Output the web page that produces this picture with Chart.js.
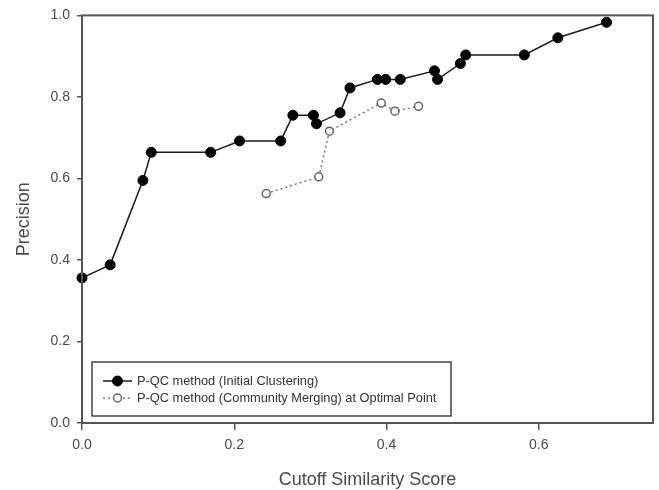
<!DOCTYPE html>
<html>
<head>
<meta charset="utf-8">
<script src="https://cdn.jsdelivr.net/npm/chart.js@4/dist/chart.umd.min.js"></script>
<style>
  html, body { margin: 0; padding: 0; background: #ffffff; }
  #c { display: block; }
</style>
</head>
<body>
<canvas id="c" width="659" height="490"></canvas>
<script>
// ---- data ----
const xTickValues = [0, 0.2, 0.4, 0.6];
const yTickValues = [0, 0.2, 0.4, 0.6, 0.8, 1.0];

const initialLabel = "P-QC method (Initial Clustering)";
const initialX = [0.000, 0.037, 0.080, 0.091, 0.169, 0.207, 0.261, 0.277, 0.304, 0.308, 0.339,
                  0.352, 0.388, 0.399, 0.418, 0.463, 0.467, 0.497, 0.504, 0.581, 0.625, 0.689];
const initialY = [0.356, 0.388, 0.595, 0.664, 0.664, 0.692, 0.692, 0.755, 0.755, 0.734, 0.761,
                  0.822, 0.843, 0.843, 0.843, 0.864, 0.843, 0.882, 0.903, 0.903, 0.945, 0.983];

const mergingLabel = "P-QC method (Community Merging) at Optimal Point";
const mergingX = [0.242, 0.311, 0.325, 0.393, 0.411, 0.442];
const mergingY = [0.563, 0.604, 0.716, 0.785, 0.765, 0.777];

const xTitle = "Cutoff Similarity Score";
const yTitle = "Precision";

const toPoints = (xs, ys) => xs.map((x, i) => ({ x: x, y: ys[i] }));

const AXIS = '#555555';
const TEXT = '#4a4a4a';

const frameAndLegend = {
  id: 'frameAndLegend',
  afterDraw(chart) {
    const ctx = chart.ctx;
    const a = chart.chartArea;
    ctx.save();
    // plot frame
    ctx.strokeStyle = AXIS;
    ctx.lineWidth = 2;
    ctx.strokeRect(a.left, a.top, a.right - a.left, a.bottom - a.top);

    // legend box
    const bx = a.left + 10, by = a.bottom - 61, bw = 359, bh = 54;
    ctx.fillStyle = '#ffffff';
    ctx.fillRect(bx, by, bw, bh);
    ctx.strokeStyle = '#444444';
    ctx.lineWidth = 1.5;
    ctx.strokeRect(bx, by, bw, bh);

    const rows = [by + 19, by + 36];
    chart.data.datasets.forEach((ds, i) => {
      const y = rows[i];
      const x0 = bx + 11, x1 = bx + 40, xm = (x0 + x1) / 2;
      ctx.beginPath();
      ctx.setLineDash(ds.borderDash || []);
      ctx.strokeStyle = ds.borderColor;
      ctx.lineWidth = ds.borderWidth;
      ctx.moveTo(x0, y); ctx.lineTo(x1, y);
      ctx.stroke();
      ctx.setLineDash([]);
      ctx.beginPath();
      ctx.arc(xm, y, ds.pointRadius, 0, Math.PI * 2);
      ctx.fillStyle = ds.pointBackgroundColor;
      ctx.fill();
      ctx.lineWidth = ds.pointBorderWidth;
      ctx.strokeStyle = ds.pointBorderColor;
      ctx.stroke();
      ctx.fillStyle = '#333333';
      ctx.font = "12.8px 'Liberation Sans', Arial, sans-serif";
      ctx.textBaseline = 'middle';
      ctx.textAlign = 'left';
      ctx.fillText(ds.label, bx + 45, y);
    });
    ctx.restore();
  }
};

new Chart(document.getElementById('c'), {
  type: 'scatter',
  data: {
    datasets: [
      {
        label: initialLabel,
        data: toPoints(initialX, initialY),
        showLine: true,
        borderColor: '#1a1a1a',
        borderWidth: 1.5,
        pointRadius: 5,
        pointHoverRadius: 5,
        pointBackgroundColor: '#000000',
        pointBorderColor: '#000000',
        pointBorderWidth: 1,
        clip: false,
        order: 1
      },
      {
        label: mergingLabel,
        data: toPoints(mergingX, mergingY),
        showLine: true,
        borderColor: '#777777',
        borderWidth: 1.5,
        borderDash: [2, 3],
        pointRadius: 4,
        pointHoverRadius: 4,
        pointBackgroundColor: '#ffffff',
        pointBorderColor: '#666666',
        pointBorderWidth: 1.5,
        clip: false,
        order: 2
      }
    ]
  },
  options: {
    responsive: false,
    animation: false,
    events: [],
    layout: { padding: { left: 0, right: 6, top: 15, bottom: 0 } },
    plugins: {
      legend: { display: false },
      tooltip: { enabled: false }
    },
    scales: {
      x: {
        type: 'linear',
        min: 0,
        max: 0.75,
        afterBuildTicks: s => { s.ticks = xTickValues.map(v => ({ value: v })); },
        afterFit: s => { s.height = 67; },
        ticks: {
          callback: v => Number(v).toFixed(1),
          font: { family: "'Liberation Sans', Arial, sans-serif", size: 14 },
          color: TEXT,
          padding: 7,
          maxRotation: 0,
          autoSkip: false
        },
        grid: { drawOnChartArea: false, drawTicks: true, tickLength: 7, color: AXIS, lineWidth: 1.5 },
        border: { display: false },
        title: {
          display: true,
          text: xTitle,
          font: { family: "'Liberation Sans', Arial, sans-serif", size: 18 },
          color: TEXT,
          padding: { top: 0, bottom: -1 }
        }
      },
      y: {
        type: 'linear',
        min: 0,
        max: 1,
        afterBuildTicks: s => { s.ticks = yTickValues.map(v => ({ value: v })); },
        afterFit: s => { s.width = 82; },
        ticks: {
          callback: v => Number(v).toFixed(1),
          font: { family: "'Liberation Sans', Arial, sans-serif", size: 14 },
          color: TEXT,
          padding: 7,
          autoSkip: false
        },
        grid: { drawOnChartArea: false, drawTicks: true, tickLength: 5, color: AXIS, lineWidth: 1.5 },
        border: { display: false },
        title: {
          display: true,
          text: yTitle,
          font: { family: "'Liberation Sans', Arial, sans-serif", size: 18 },
          color: TEXT,
          padding: { top: 13, bottom: 0 }
        }
      }
    }
  },
  plugins: [frameAndLegend]
});
</script>
</body>
</html>
